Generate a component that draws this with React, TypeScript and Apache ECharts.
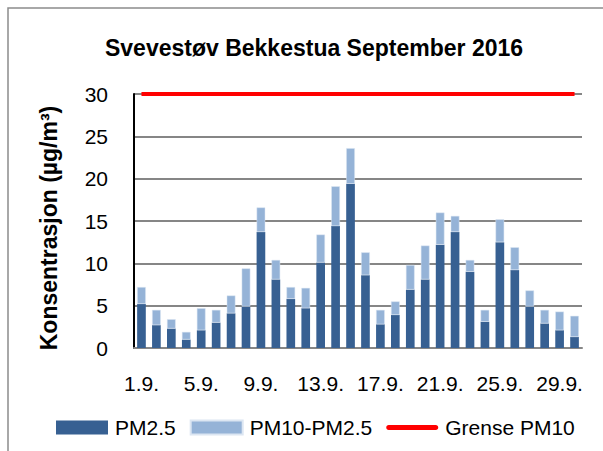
import React, { useEffect, useRef } from "react";
import * as echarts from "echarts";

const categories = Array.from({ length: 30 }, (_, i) => `${i + 1}.9.`);
const pm25 = [5.2, 2.7, 2.3, 1.0, 2.1, 3.0, 4.1, 4.9, 13.7, 8.1, 5.8, 4.7, 10.1, 14.4, 19.4, 8.6, 2.8, 3.9, 6.9, 8.1, 12.2, 13.7, 9.0, 3.1, 12.5, 9.2, 4.9, 2.9, 2.1, 1.3];
const pm10Total = [7.2, 4.5, 3.4, 1.9, 4.7, 4.5, 6.2, 9.4, 16.6, 10.4, 7.2, 7.1, 13.4, 19.1, 23.6, 11.3, 4.5, 5.5, 9.8, 12.1, 16.0, 15.6, 10.4, 4.5, 15.2, 11.9, 6.8, 4.5, 4.3, 3.8];
const coarse = pm10Total.map((t, i) => Math.round((t - pm25[i]) * 10) / 10);
const limit = categories.map(() => 30);

const FONT = "Liberation Sans";
const LINE_ICON =
  "path://M0,0L0.01,0L0.01,0.01Z M0,14L0.01,14L0.01,13.99Z M2.5,4.5L49.5,4.5C51,4.5 52,5.6 52,7C52,8.4 51,9.5 49.5,9.5L2.5,9.5C1,9.5 0,8.4 0,7C0,5.6 1,4.5 2.5,4.5Z";

export default function App() {
  const ref = useRef<HTMLDivElement>(null);
  useEffect(() => {
    const chart = echarts.init(ref.current!, null, { renderer: "svg" });
    chart.setOption({
      animation: false,
      backgroundColor: "#ffffff",
      textStyle: { fontFamily: FONT },
      title: {
        text: "Svevestøv Bekkestua September 2016",
        left: 309,
        top: 31,
        textAlign: "center",
        textStyle: { fontFamily: FONT, fontWeight: "bold", fontSize: 23, color: "#000" },
      },
      graphic: [
        {
          type: "rect",
          shape: { x: 8, y: 8, width: 700, height: 600 },
          style: { fill: "none", stroke: "#8c8c8c", lineWidth: 1.5 },
          silent: true,
        },
        {
          type: "text",
          x: 49,
          y: 228,
          rotation: Math.PI / 2,
          style: {
            text: "Konsentrasjon (µg/m³)",
            fontFamily: FONT,
            fontSize: 23,
            fontWeight: "bold",
            fill: "#000",
            align: "center",
            verticalAlign: "middle",
          },
          silent: true,
        },
      ],
      grid: { left: 134, right: 21, top: 94, bottom: 103, containLabel: false },
      legend: {
        top: 412,
        left: 51,
        itemWidth: 52,
        itemHeight: 14,
        itemGap: 14,
        textStyle: { fontFamily: FONT, fontSize: 21, color: "#000", padding: [0, 0, 0, 2] },
        data: [
          { name: "PM2.5", icon: "rect" },
          { name: "PM10-PM2.5", icon: "rect" },
          { name: "Grense PM10", icon: LINE_ICON },
        ],
      },
      xAxis: {
        type: "category",
        data: categories,
        axisLine: { show: true, lineStyle: { color: "#868686", width: 2 } },
        axisTick: { show: false },
        axisLabel: { interval: 3, fontFamily: FONT, fontSize: 21, color: "#000", margin: 25 },
      },
      yAxis: {
        type: "value",
        min: 0,
        max: 30,
        interval: 5,
        axisLine: { show: true, lineStyle: { color: "#000", width: 2 } },
        axisTick: { show: false },
        axisLabel: { fontFamily: FONT, fontSize: 21, color: "#000", margin: 26 },
        splitLine: { show: true, lineStyle: { color: "#868686", width: 2 } },
      },
      series: [
        {
          name: "PM2.5",
          type: "bar",
          stack: "pm",
          data: pm25,
          barWidth: "58%",
          itemStyle: { color: "#376092" },
        },
        {
          name: "PM10-PM2.5",
          type: "bar",
          stack: "pm",
          data: coarse,
          itemStyle: { color: "#95b3d7", borderColor: "#dce6f2", borderWidth: 0.5 },
        },
        {
          name: "Grense PM10",
          type: "line",
          data: limit,
          symbol: "none",
          lineStyle: { color: "#ff0000", width: 4 },
          itemStyle: { color: "#ff0000" },
          z: 5,
        },
      ],
    });
    return () => chart.dispose();
  }, []);
  return (
    <div
      ref={ref}
      style={{ position: "fixed", left: 0, top: 0, width: 603, height: 451 }}
    />
  );
}
